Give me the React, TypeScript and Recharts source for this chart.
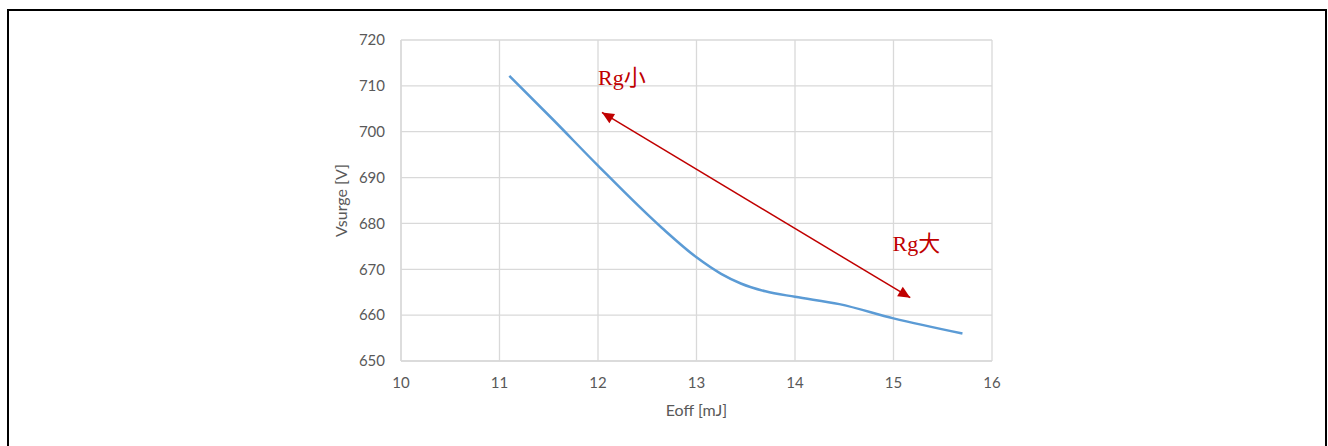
import { LineChart, Line, XAxis, YAxis, CartesianGrid, ReferenceLine, ReferenceDot, Label } from 'recharts';

// Eoff [mJ] vs Vsurge [V]
const eoff = [11.1, 11.55, 12.0, 12.65, 13.0, 13.25, 13.45, 13.7, 14.0, 14.45, 15.0, 15.7];
const vsurge = [712.2, 702.5, 692.6, 679.0, 672.6, 669.0, 666.9, 665.2, 664.0, 662.4, 659.3, 656.0];
const xTicks = [10, 11, 12, 13, 14, 15, 16];
const yTicks = [650, 660, 670, 680, 690, 700, 710, 720];

// arrow from "Rg大" end up to "Rg小" end
const arrowFrom = { x: 15.17, y: 663.8 };
const arrowTo = { x: 12.04, y: 704.2 };
const notes = [
  { x: 12.0, y: 710.2, text: 'Rg小' },
  { x: 14.99, y: 674.0, text: 'Rg大' },
];

const data = eoff.map((x, i) => ({ x, y: vsurge[i] }));

const RED = '#C00000';
const TICK = { fill: '#595959', fontSize: 15, fontFamily: 'Lato, sans-serif' };

function head(tx: number, ty: number, fx: number, fy: number) {
  const a = Math.atan2(ty - fy, tx - fx);
  const len = 12;
  const w = 5.5;
  const bx = tx - len * Math.cos(a);
  const by = ty - len * Math.sin(a);
  const px = -Math.sin(a) * w;
  const py = Math.cos(a) * w;
  return `${tx},${ty} ${bx + px},${by + py} ${bx - px},${by - py}`;
}

const DoubleArrow = (props: any) => {
  const { x1, y1, x2, y2 } = props;
  if (x1 == null) return null;
  return (
    <g>
      <line x1={x1} y1={y1} x2={x2} y2={y2} stroke={RED} strokeWidth={1.5} />
      <polygon points={head(x1, y1, x2, y2)} fill={RED} />
      <polygon points={head(x2, y2, x1, y1)} fill={RED} />
    </g>
  );
};

export default function App() {
  return (
    <div style={{ position: 'absolute', left: 0, top: 0, width: 1328, height: 446, background: '#fff', overflow: 'hidden' }}>
      <div
        style={{
          position: 'absolute',
          left: 7,
          top: 9,
          width: 1316,
          height: 460,
          border: '2px solid #000',
        }}
      />
      <div style={{ position: 'absolute', left: 0, top: 0 }}>
        <LineChart
          width={1328}
          height={446}
          data={data}
          margin={{ top: 40, right: 336, bottom: 35, left: 331 }}
        >
          <CartesianGrid stroke="#d9d9d9" strokeWidth={1.3} />
          <XAxis
            dataKey="x"
            type="number"
            domain={[10, 16]}
            ticks={xTicks}
            height={50}
            axisLine={{ stroke: '#d9d9d9', strokeWidth: 1.3 }}
            tickLine={false}
            tickSize={0}
            tickMargin={16}
            tick={TICK}
          >
            <Label
              value="Eoff [mJ]"
              position="center"
              dy={24}
              style={{ fill: '#595959', fontSize: 16, fontFamily: 'Lato, sans-serif' }}
            />
          </XAxis>
          <YAxis
            type="number"
            domain={[650, 720]}
            ticks={yTicks}
            width={70}
            axisLine={{ stroke: '#d9d9d9', strokeWidth: 1.3 }}
            tickLine={false}
            tickSize={0}
            tickMargin={16}
            tick={TICK}
          >
            <Label
              value="Vsurge [V]"
              angle={-90}
              position="center"
              dx={-25}
              style={{ fill: '#595959', fontSize: 16, fontFamily: 'Lato, sans-serif', textAnchor: 'middle' }}
            />
          </YAxis>
          <Line
            type="monotone"
            dataKey="y"
            stroke="#5B9BD5"
            strokeWidth={2.5}
            dot={false}
            isAnimationActive={false}
          />
          <ReferenceLine
            segment={[arrowFrom, arrowTo]}
            shape={DoubleArrow}
            ifOverflow="visible"
          />
          {notes.map((n) => (
            <ReferenceDot
              key={n.text}
              x={n.x}
              y={n.y}
              r={0}
              ifOverflow="visible"
              shape={(p: any) => (
                <text
                  x={p.cx}
                  y={p.cy}
                  fill={RED}
                  fontSize={22}
                  fontFamily="'Liberation Serif', 'Noto Sans CJK SC', serif"
                >
                  {n.text}
                </text>
              )}
            />
          ))}
        </LineChart>
      </div>
    </div>
  );
}
